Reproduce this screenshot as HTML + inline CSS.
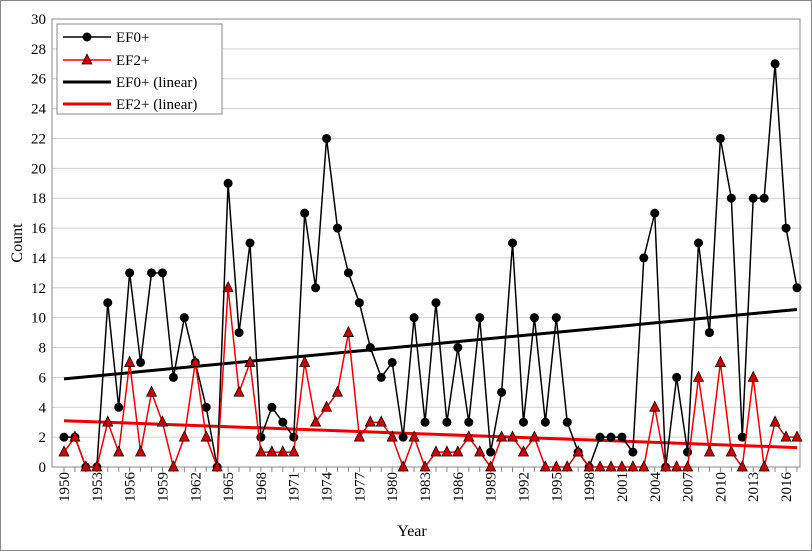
<!DOCTYPE html>
<html><head><meta charset="utf-8"><style>
body{margin:0;background:#fff;}
svg{display:block;font-family:"Liberation Serif",serif;}
</style></head><body>
<svg id="s" width="812" height="551" xmlns="http://www.w3.org/2000/svg">
<rect x="0.5" y="0.5" width="811" height="550" fill="#fff" stroke="#888"/>
<g id="g"></g>
</svg>
<script>
var ef0=[2,2,0,0,11,4,13,7,13,13,6,10,7,4,0,19,9,15,2,4,3,2,17,12,22,16,13,11,8,6,7,2,10,3,11,3,8,3,10,1,5,15,3,10,3,10,3,1,0,2,2,2,1,14,17,0,6,1,15,9,22,18,2,18,18,27,16,12];
var ef2=[1,2,0,0,3,1,7,1,5,3,0,2,7,2,0,12,5,7,1,1,1,1,7,3,4,5,9,2,3,3,2,0,2,0,1,1,1,2,1,0,2,2,1,2,0,0,0,1,0,0,0,0,0,0,4,0,0,0,6,1,7,1,0,6,0,3,2,2];
var L=52,R=800,T=19,B=467;
function X(i){return 64+i*10.94;}
function Y(v){return B-v*(B-T)/30;}
var h='';
for(var v=0;v<=30;v+=2){var y=Y(v);
 h+='<line x1="'+L+'" x2="'+R+'" y1="'+y+'" y2="'+y+'" stroke="#d0d0d0"/>';
 h+='<text x="'+(L-6)+'" y="'+(y+5)+'" font-size="15" text-anchor="end">'+v+'</text>';}
h+='<rect x="'+L+'" y="'+T+'" width="'+(R-L)+'" height="'+(B-T)+'" fill="none" stroke="#888"/>';
for(var i=0;i<68;i++){h+='<line x1="'+X(i)+'" x2="'+X(i)+'" y1="'+B+'" y2="'+(B+5)+'" stroke="#888"/>';
 if(i%3==0){h+='<text transform="translate('+(X(i)+5)+','+(B+5)+') rotate(-90)" font-size="15" text-anchor="end">'+(1950+i)+'</text>';}}
h+='<text x="412" y="536" font-size="16" text-anchor="middle">Year</text>';
h+='<text transform="translate(22,243) rotate(-90)" font-size="16" text-anchor="middle">Count</text>';
h+='<line x1="'+X(0)+'" y1="'+Y(5.9)+'" x2="'+X(67)+'" y2="'+Y(10.55)+'" stroke="#000" stroke-width="3"/>';
h+='<line x1="'+X(0)+'" y1="'+Y(3.1)+'" x2="'+X(67)+'" y2="'+Y(1.3)+'" stroke="#e00" stroke-width="3"/>';
function pl(d,c){var p=d.map(function(v,i){return X(i)+','+Y(v)}).join(' ');return '<polyline points="'+p+'" fill="none" stroke="'+c+'" stroke-width="1.5"/>';}
h+=pl(ef0,'#000');
ef0.forEach(function(v,i){h+='<circle cx="'+X(i)+'" cy="'+Y(v)+'" r="4.5" fill="#000"/>';});
h+=pl(ef2,'#e00');
function tri(x,y){return '<polygon points="'+x+','+(y-6)+' '+(x-5)+','+(y+4)+' '+(x+5)+','+(y+4)+'" fill="#c00" stroke="#000" stroke-width="0.7"/>';}
ef2.forEach(function(v,i){h+=tri(X(i),Y(v));});
h+='<rect x="57" y="24" width="165" height="90" fill="#fff" stroke="#888"/>';
var ly=[37,60,82,104],lab=['EF0+','EF2+','EF0+ (linear)','EF2+ (linear)'];
h+='<line x1="63" x2="111" y1="37" y2="37" stroke="#000" stroke-width="1.5"/><circle cx="87" cy="37" r="4.5"/>';
h+='<line x1="63" x2="111" y1="60" y2="60" stroke="#e00" stroke-width="1.5"/>'+tri(87,60);
h+='<line x1="63" x2="111" y1="82" y2="82" stroke="#000" stroke-width="3"/>';
h+='<line x1="63" x2="111" y1="104" y2="104" stroke="#e00" stroke-width="3"/>';
for(var k=0;k<4;k++)h+='<text x="116" y="'+(ly[k]+5)+'" font-size="15">'+lab[k]+'</text>';
document.getElementById('g').innerHTML=h;
</script>
</body></html>
